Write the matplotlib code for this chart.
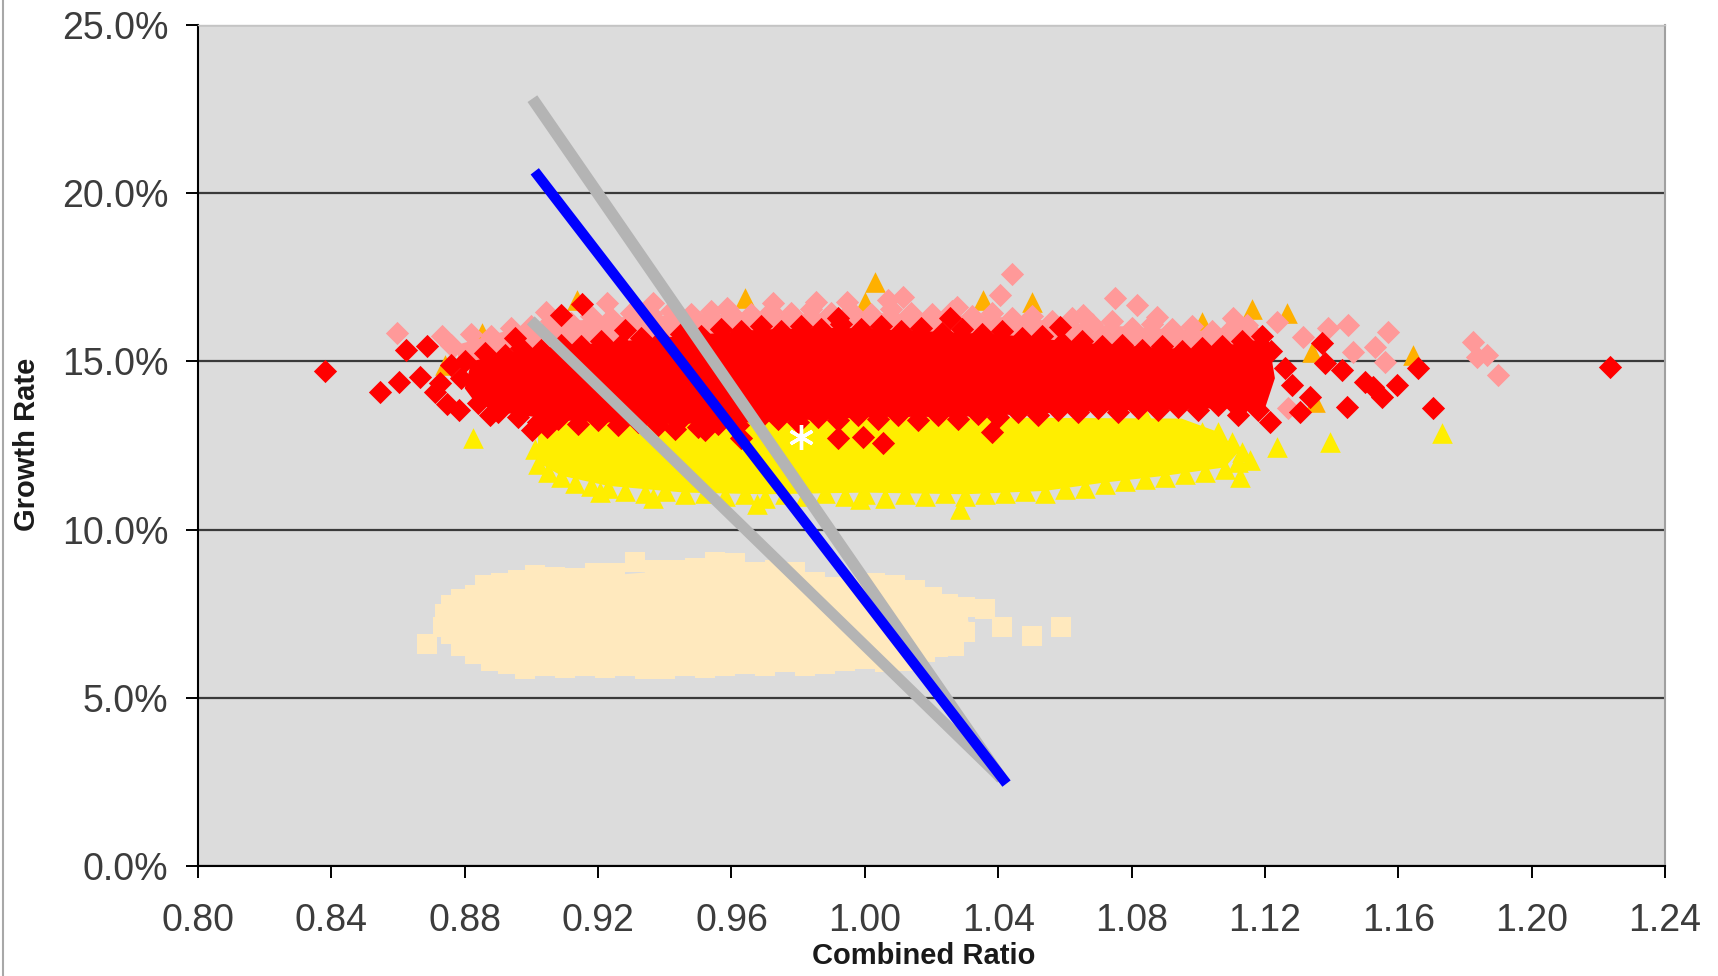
import matplotlib
matplotlib.use("Agg")
import matplotlib.pyplot as plt
from matplotlib.lines import Line2D

plt.rcParams['font.family'] = ['Liberation Sans', 'DejaVu Sans']

# Simulated outcomes: (combined ratio, growth rate %)
# The solid centre of each cloud is an outline, the ragged rim and
# stray points are single markers.

# --- cream squares (low growth scenario) ---
sq_core = [(0.874, 7.0), (0.875, 7.6), (0.883, 8.0), (0.896, 8.45), (0.913, 8.55), (0.937, 8.75),
           (0.961, 8.9), (0.979, 8.7), (0.991, 8.3), (1.009, 8.3), (1.020, 7.95), (1.030, 7.6),
           (1.032, 7.0), (1.022, 6.5), (1.012, 6.15), (0.988, 6.05), (0.958, 5.95), (0.928, 5.95),
           (0.898, 5.9), (0.883, 6.3), (0.877, 6.7)]
sq_pts = [(0.8686, 6.60), (0.8735, 7.10), (0.8740, 7.50), (0.8760, 7.75), (0.8790, 7.95),
          (0.8830, 8.05), (0.8860, 8.35), (0.8910, 8.40), (0.8960, 8.50), (0.9010, 8.65),
          (0.9070, 8.60), (0.9130, 8.55), (0.9190, 8.70), (0.9250, 8.70), (0.9310, 9.05),
          (0.9370, 8.80), (0.9430, 8.80), (0.9490, 8.85), (0.9550, 9.05), (0.9610, 9.00),
          (0.9670, 8.75), (0.9730, 8.80), (0.9790, 8.75), (0.9850, 8.45), (0.9910, 8.30),
          (0.9970, 8.30), (1.0030, 8.40), (1.0090, 8.35), (1.0150, 8.20), (1.0200, 8.00),
          (1.0250, 7.80), (1.0300, 7.70), (1.0360, 7.65), (1.0410, 7.10), (1.0280, 7.35),
          (1.0186, 7.50), (1.0500, 6.85), (1.0587, 7.10),
          (0.8760, 6.90), (0.8790, 6.55), (0.8830, 6.30), (0.8880, 6.10), (0.8930, 6.00),
          (0.8980, 5.85), (0.9040, 5.95), (0.9100, 5.90), (0.9160, 5.95), (0.9220, 5.90),
          (0.9280, 5.95), (0.9340, 5.85), (0.9400, 5.85), (0.9460, 5.95), (0.9520, 5.90),
          (0.9580, 5.95), (0.9640, 6.00), (0.9700, 5.95), (0.9760, 6.05), (0.9820, 5.95),
          (0.9880, 6.00), (0.9940, 6.10), (1.0000, 6.15), (1.0060, 6.05), (1.0120, 6.10),
          (1.0180, 6.35), (1.0220, 6.50), (1.0266, 6.55), (1.0300, 6.95)]

# --- yellow triangles ---
yel_core = [(0.902, 13.2), (0.902, 12.0), (0.909, 11.6), (0.923, 11.3), (0.946, 11.1),
            (0.970, 11.05), (1.000, 11.1), (1.030, 11.05), (1.054, 11.15), (1.072, 11.4),
            (1.090, 11.6), (1.108, 11.85), (1.112, 12.3), (1.106, 12.9), (1.095, 13.3),
            (1.000, 13.35)]
yel_pts = [(0.9010, 12.40), (0.9020, 11.95), (0.9050, 11.70), (0.9090, 11.55), (0.9130, 11.40),
           (0.9180, 11.30), (0.9230, 11.25), (0.9280, 11.15), (0.9340, 11.10), (0.9400, 11.15),
           (0.9460, 11.05), (0.9520, 11.10), (0.9580, 11.00), (0.9640, 11.05), (0.9700, 10.95),
           (0.9760, 11.05), (0.9820, 11.00), (0.9880, 11.10), (0.9940, 11.00), (1.0000, 11.05),
           (1.0060, 10.95), (1.0120, 11.05), (1.0180, 11.00), (1.0240, 11.10), (1.0300, 11.00),
           (1.0360, 11.05), (1.0420, 11.10), (1.0480, 11.15), (1.0540, 11.10), (1.0600, 11.20),
           (1.0660, 11.25), (1.0720, 11.35), (1.0780, 11.45), (1.0840, 11.50), (1.0900, 11.55),
           (1.0960, 11.65), (1.1020, 11.70), (1.1080, 11.80), (1.1120, 12.00), (1.1130, 12.30),
           (1.1100, 12.60), (1.1060, 12.90),
           (0.8826, 12.72), (1.0286, 10.60), (0.9676, 10.75), (1.0834, 13.47), (1.1010, 12.91),
           (1.1236, 12.46), (1.1395, 12.61), (1.1730, 12.86), (1.1125, 11.55), (1.1155, 12.07),
           (1.0946, 12.76), (1.1035, 12.37), (0.9206, 11.13), (0.9365, 10.95), (0.9986, 10.90)]

# --- orange triangles ---
org_pts = [(0.8741, 14.89), (0.8851, 15.85), (0.9136, 16.83), (0.9640, 16.88), (1.0000, 16.77),
           (1.0031, 17.37), (1.0355, 16.83), (1.0500, 16.77), (1.1010, 16.16), (1.1160, 16.57),
           (1.1265, 16.43), (1.1340, 15.29), (1.1350, 13.80), (1.1645, 15.20)]

# --- pink diamonds ---
pnk_core = [(0.878, 15.0), (0.878, 15.5), (0.894, 15.95), (0.906, 16.15), (0.924, 16.3),
            (0.948, 16.4), (0.972, 16.4), (0.996, 16.45), (1.020, 16.4), (1.044, 16.3),
            (1.068, 16.1), (1.092, 15.95), (1.116, 15.85), (1.118, 15.0)]
pnk_pts = [(0.876, 15.50), (0.882, 15.80), (0.888, 15.75), (0.894, 16.00), (0.900, 16.05),
           (0.906, 16.20), (0.912, 16.15), (0.918, 16.35), (0.924, 16.30), (0.930, 16.45),
           (0.936, 16.40), (0.942, 16.50), (0.948, 16.40), (0.954, 16.50), (0.960, 16.45),
           (0.966, 16.40), (0.972, 16.50), (0.978, 16.45), (0.984, 16.55), (0.990, 16.45),
           (0.996, 16.50), (1.002, 16.40), (1.008, 16.55), (1.014, 16.45), (1.020, 16.40),
           (1.026, 16.50), (1.032, 16.35), (1.038, 16.45), (1.044, 16.30), (1.050, 16.35),
           (1.056, 16.20), (1.062, 16.30), (1.068, 16.10), (1.074, 16.20), (1.080, 16.00),
           (1.086, 16.10), (1.092, 15.95), (1.098, 16.05), (1.104, 15.90), (1.110, 16.00),
           (1.116, 15.85),
           (0.8596, 15.85), (0.8731, 15.75), (0.8765, 15.44), (0.9045, 16.48), (0.9226, 16.73),
           (0.9365, 16.73), (0.9586, 16.58), (0.9725, 16.73), (0.9855, 16.78), (0.9946, 16.78),
           (1.0070, 16.83), (1.0115, 16.92), (1.0276, 16.63), (1.0405, 16.97), (1.0440, 17.60),
           (1.0655, 16.38), (1.0750, 16.88), (1.0815, 16.68), (1.0875, 16.33), (1.1105, 16.29),
           (1.1145, 16.08), (1.1235, 16.18), (1.1270, 13.61), (1.1315, 15.73), (1.1390, 15.98),
           (1.1450, 16.08), (1.1465, 15.29), (1.1530, 15.44), (1.1560, 14.99), (1.1570, 15.88),
           (1.1825, 15.59), (1.1835, 15.14), (1.1865, 15.19), (1.1900, 14.60)]

# --- red diamonds ---
red_core = [(0.880, 14.2), (0.882, 15.0), (0.897, 15.35), (0.921, 15.55), (0.945, 15.75),
            (0.969, 15.95), (0.993, 16.0), (1.017, 15.9), (1.041, 15.8), (1.065, 15.55),
            (1.089, 15.4), (1.101, 15.35), (1.113, 15.55), (1.121, 15.7), (1.123, 14.5),
            (1.120, 13.6), (1.100, 13.6), (1.076, 13.55), (1.052, 13.45), (1.028, 13.35),
            (1.004, 13.35), (0.980, 13.25), (0.956, 13.15), (0.932, 13.15), (0.908, 13.25),
            (0.890, 13.5), (0.883, 13.8)]
red_pts = [
    # upper rim
    (0.880, 15.00), (0.886, 15.25), (0.892, 15.20), (0.897, 15.40), (0.903, 15.35),
    (0.909, 15.50), (0.915, 15.45), (0.921, 15.60), (0.927, 15.50), (0.933, 15.70),
    (0.939, 15.65), (0.945, 15.80), (0.951, 15.75), (0.957, 15.95), (0.963, 15.90),
    (0.969, 16.05), (0.975, 15.90), (0.981, 16.05), (0.987, 15.95), (0.993, 16.10),
    (0.999, 15.95), (1.005, 16.05), (1.011, 15.90), (1.017, 16.00), (1.023, 15.85),
    (1.029, 15.95), (1.035, 15.80), (1.041, 15.90), (1.047, 15.70), (1.053, 15.75),
    (1.059, 15.55), (1.065, 15.60), (1.071, 15.45), (1.077, 15.50), (1.083, 15.35),
    (1.089, 15.45), (1.095, 15.30), (1.101, 15.40), (1.107, 15.45), (1.113, 15.60),
    (1.119, 15.75),
    # lower rim
    (0.884, 13.75), (0.890, 13.50), (0.896, 13.35), (0.902, 13.20), (0.908, 13.30),
    (0.914, 13.15), (0.920, 13.25), (0.926, 13.10), (0.932, 13.20), (0.938, 13.10),
    (0.944, 13.20), (0.950, 13.05), (0.956, 13.15), (0.962, 13.10), (0.968, 13.25),
    (0.974, 13.30), (0.980, 13.20), (0.986, 13.35), (0.992, 13.25), (0.998, 13.40),
    (1.004, 13.30), (1.010, 13.40), (1.016, 13.25), (1.022, 13.40), (1.028, 13.30),
    (1.034, 13.45), (1.040, 13.35), (1.046, 13.50), (1.052, 13.40), (1.058, 13.55),
    (1.064, 13.50), (1.070, 13.60), (1.076, 13.50), (1.082, 13.60), (1.088, 13.55),
    (1.094, 13.65), (1.100, 13.55), (1.106, 13.70), (1.112, 13.60), (1.118, 13.55),
    # strays
    (0.8381, 14.72), (0.8546, 14.10), (0.8604, 14.38), (0.8666, 14.55), (0.8726, 14.35),
    (0.8623, 15.34), (0.8686, 15.46), (0.8746, 13.72), (0.8783, 13.55), (0.8710, 14.10),
    (0.8760, 14.90), (0.8790, 14.50), (0.8875, 13.40), (0.8950, 15.69), (0.9088, 16.38),
    (0.9151, 16.70), (0.9281, 15.93), (0.9920, 16.29), (1.0256, 16.29), (1.0586, 16.03),
    (0.9002, 12.96), (0.9047, 13.06), (0.9430, 13.00), (0.9520, 12.95), (0.9630, 12.71),
    (0.9920, 12.72), (0.9995, 12.76), (1.0055, 12.57), (1.0380, 12.91), (1.1120, 13.41),
    (1.1215, 13.21), (1.1218, 15.32), (1.1260, 14.80), (1.1280, 14.30), (1.1305, 13.50),
    (1.1335, 13.95), (1.1370, 15.54), (1.1380, 14.94), (1.1430, 14.74), (1.1445, 13.65),
    (1.1500, 14.40), (1.1525, 14.25), (1.1550, 13.95), (1.1595, 14.30), (1.1660, 14.79),
    (1.1705, 13.61), (1.2235, 14.84)]

# --- fitted lines ---
upper_line_x = [0.9003, 1.041]
upper_line_y = [22.81, 2.6]
lower_line_x = [0.8998, 1.041]
lower_line_y = [16.22, 2.6]
mid_line_x = [0.901, 1.0425]
mid_line_y = [20.65, 2.45]

# current position
current_x = [0.981]
current_y = [12.76]

x_ticks = [0.80, 0.84, 0.88, 0.92, 0.96, 1.00, 1.04, 1.08, 1.12, 1.16, 1.20, 1.24]
y_ticks = [0, 5, 10, 15, 20, 25]


def cloud(ax, core, pts, marker, size, colour, z):
    if core:
        cx, cy = zip(*core)
        ax.fill(cx, cy, color=colour, lw=0, zorder=z)
    px, py = zip(*pts)
    ax.scatter(px, py, marker=marker, s=size, color=colour, lw=0, zorder=z)


fig = plt.figure(figsize=(17.18, 9.76), dpi=100)
ax = fig.add_axes([198 / 1718, 1 - 866 / 976, 1467 / 1718, 841 / 976])
ax.set_facecolor('#DCDCDC')

# clouds, bottom layer first
cloud(ax, sq_core, sq_pts, 's', 200, '#FFE9BE', 2)
cloud(ax, yel_core, yel_pts, '^', 220, '#FFEE00', 3)
cloud(ax, None, org_pts, '^', 220, '#FFB000', 4)
cloud(ax, pnk_core, pnk_pts, 'D', 140, '#FF9999', 5)
cloud(ax, red_core, red_pts, 'D', 140, '#FF0000', 6)

ax.plot(upper_line_x, upper_line_y, color='#B4B4B4', lw=8.5, solid_capstyle='butt', zorder=7)
ax.plot(lower_line_x, lower_line_y, color='#B4B4B4', lw=8, solid_capstyle='butt', zorder=7)
ax.plot(mid_line_x, mid_line_y, color='#0000FF', lw=7.5, solid_capstyle='butt', zorder=8)

ax.plot(current_x, current_y, marker=(6, 2, 0), ms=18, mew=2.4, color='white', ls='none', zorder=9)

ax.set_xlim(0.80, 1.24)
ax.set_ylim(0, 25)
ax.set_xticks(x_ticks)
ax.set_xticklabels(['%.2f' % t for t in x_ticks])
ax.set_yticks(y_ticks)
ax.set_yticklabels(['%.1f%%' % t for t in y_ticks])

ax.grid(axis='y', color='#3A3A3A', lw=1.6, zorder=1)
ax.set_axisbelow(True)

ax.tick_params(axis='both', direction='out', length=8.5, width=1.4, color='black',
               labelsize=27, labelcolor='#3C3C3C')
ax.tick_params(axis='x', pad=18)
ax.tick_params(axis='y', pad=13)

for side in ['left', 'bottom']:
    ax.spines[side].set_color('black')
    ax.spines[side].set_linewidth(1.5)
ax.spines['right'].set_color('#A0A0A0')
ax.spines['right'].set_linewidth(1.5)
ax.spines['top'].set_color('#C4C4C4')
ax.spines['top'].set_linewidth(1.0)

fig.text(924 / 1718, 1 - 956 / 976, 'Combined Ratio', fontsize=21, fontweight='bold',
         color='#1A1A1A', ha='center', va='center')
fig.text(27 / 1718, 1 - 444 / 976, 'Growth Rate', fontsize=21, fontweight='bold',
         color='#1A1A1A', ha='center', va='center', rotation=90)

# thin frame line down the left edge of the chart area
fig.add_artist(Line2D([0.0015, 0.0015], [0, 1], transform=fig.transFigure, color='#A8A8A8', lw=1.5))

fig.savefig('out.png', dpi=100)
